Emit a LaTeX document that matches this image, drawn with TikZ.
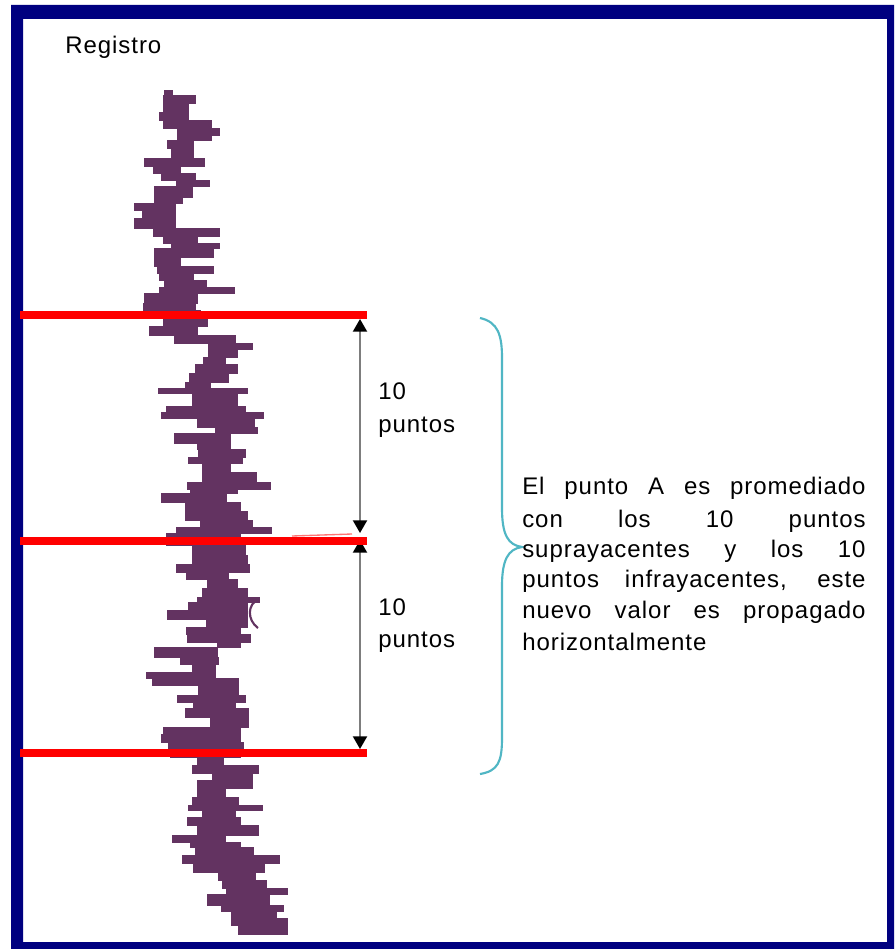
\documentclass[tikz,border=0pt]{standalone}
\usepackage{fontspec}
\setmainfont{Liberation Sans}
\newfontfamily\labfont[LetterSpace=4]{Liberation Sans}
\usetikzlibrary{arrows.meta}
\definecolor{navyframe}{RGB}{0,0,128}
\definecolor{logc}{RGB}{99,51,97}
\definecolor{bracec}{RGB}{80,182,196}
\definecolor{redline}{RGB}{255,0,0}
\definecolor{arrowgray}{RGB}{125,125,125}
\tikzset{
  logbar/.style={fill=logc, draw=logc, line width=0.2pt},
  redmark/.style={draw=redline, line width=6pt},
  gauge/.style={draw=arrowgray, line width=1.5pt, {Triangle[width=10.5pt,length=9.5pt,fill=black,color=black]}-{Triangle[width=10.5pt,length=9.5pt,fill=black,color=black]}},
  bracepath/.style={draw=bracec, line width=1.6pt},
  lbl/.style={inner sep=0pt, anchor=base west, font=\labfont\fontsize{18}{21}\selectfont},
}
\begin{document}
\begin{tikzpicture}[x=0.75pt, y=-0.75pt]
\useasboundingbox (0,0) rectangle (894,949);
% frame
\fill[white] (0,0) rectangle (894,949);
\fill[navyframe, even odd rule] (11,5) rectangle (894,949) (23,19) rectangle (887,942);
% log
\foreach \ya/\yb/\xa/\xb in {
90/95/164/172, 95/103/163/195, 103/112/163/188, 112/120/159/188, 120/128/163/211,
128/135/177/219, 135/140/177/211, 140/148/167/193, 148/158/171/193, 158/166/144/204,
166/173/153/180, 173/180/161/195, 180/186/176/209, 186/197/154/192, 197/203/154/182,
203/210/134/175, 210/218/142/175, 218/228/134/175, 228/236/153/219, 236/243/163/197,
243/248/171/219, 248/257/154/213, 257/266/154/180, 266/273/157/213, 273/280/159/193,
280/287/164/206, 287/293/159/234, 293/303/144/197, 303/310/143/195, 310/318/143/200,
318/326/163/207, 326/335/149/197, 335/343/174/235, 343/349/208/252, 349/357/208/237,
357/364/203/225, 364/373/195/237, 373/382/189/228, 382/388/185/210, 388/393/158/247,
393/406/192/237, 406/412/166/245, 412/418/161/263, 418/427/197/254, 427/433/215/257,
433/443/174/230, 443/449/197/230, 449/457/198/245, 457/463/188/242, 463/472/202/230,
472/482/202/256, 482/489/187/270, 489/493/190/237, 493/502/161/226, 502/511/185/240,
511/520/185/247, 520/527/200/252, 527/533/176/271, 533/545/166/240, 545/555/192/245,
555/564/192/247, 564/572/176/249, 572/579/186/228, 579/588/207/237, 588/597/202/247,
597/602/197/259, 602/610/188/247, 610/619/167/247, 619/627/206/247, 627/634/186/240,
634/642/187/250, 642/647/217/240, 647/657/154/217, 657/664/180/218, 664/672/192/215,
672/678/146/215, 678/685/152/238, 685/695/198/238, 695/702/177/245, 702/708/193/235,
708/717/185/248, 717/727/210/248, 727/734/163/240, 734/742/161/240, 742/748/168/243,
748/757/170/240, 757/765/197/223, 765/773/192/258, 773/780/212/252, 780/788/197/252,
788/797/197/225, 797/805/192/238, 805/810/188/262, 810/817/202/235, 817/825/187/240,
825/835/197/258, 835/842/172/225, 842/847/190/240, 847/855/195/253, 855/863/182/279,
863/872/193/264, 872/880/218/255, 880/888/222/266, 888/894/226/287, 894/905/207/269,
905/911/221/283, 911/918/231/276, 918/925/231/287, 925/934/238/287}
  {\path[logbar] (\xa,\ya) rectangle (\xb,\yb);}
\draw[logc, line width=1.6pt] (259,599) .. controls (247,604) and (247,620) .. (258,628);
% gauge arrows
\coordinate (a1t) at (360,319);
\coordinate (a1b) at (360,533);
\coordinate (a2t) at (360,540);
\coordinate (a2b) at (360,749);
\draw[gauge] (a1t) -- (a1b);
\draw[gauge] (a2t) -- (a2b);
% red lines
\coordinate (r1l) at (20,315); \coordinate (r1r) at (367,315);
\coordinate (r2l) at (20,541); \coordinate (r2r) at (367,541);
\coordinate (r3l) at (20,753); \coordinate (r3r) at (367,753);
\draw[redmark] (r1l) -- (r1r);
\draw[redmark] (r2l) -- (r2r);
\draw[redmark] (r3l) -- (r3r);
\coordinate (pk1) at (292,536); \coordinate (pk2) at (352,534);
\draw[redline!55, line width=1pt] (pk1) -- (pk2);
% brace
\coordinate (bt) at (480,318);
\coordinate (btip) at (522,547);
\coordinate (bb) at (480,774);
\draw[bracepath] (bt) .. controls (498,322) and (502,335) .. (502,358) -- (502,508)
   .. controls (502,535) and (508,545) .. (btip)
   .. controls (508,549) and (502,560) .. (502,586) -- (502,738)
   .. controls (502,762) and (498,771) .. (bb);
% labels
\node[lbl] (reg) at (65,54) {Registro};
\node[lbl] (n10a) at (378,399) {10};
\node[lbl] (npa) at (378,432) {puntos};
\node[lbl] (n10b) at (378,615) {10};
\node[lbl] (npb) at (378,647) {puntos};
\node[lbl] (t1) at (522,494) {\makebox[257.5pt][s]{El punto A es promediado}};
\node[lbl] (t2) at (522,527) {\makebox[257.5pt][s]{con los 10 puntos}};
\node[lbl] (t3) at (522,557) {\makebox[257.5pt][s]{suprayacentes y los 10}};
\node[lbl] (t4) at (522,587) {\makebox[257.5pt][s]{puntos infrayacentes, este}};
\node[lbl] (t5) at (522,618) {\makebox[257.5pt][s]{nuevo valor es propagado}};
\node[lbl] (t6) at (522,650) {horizontalmente};
\end{tikzpicture}
\end{document}
